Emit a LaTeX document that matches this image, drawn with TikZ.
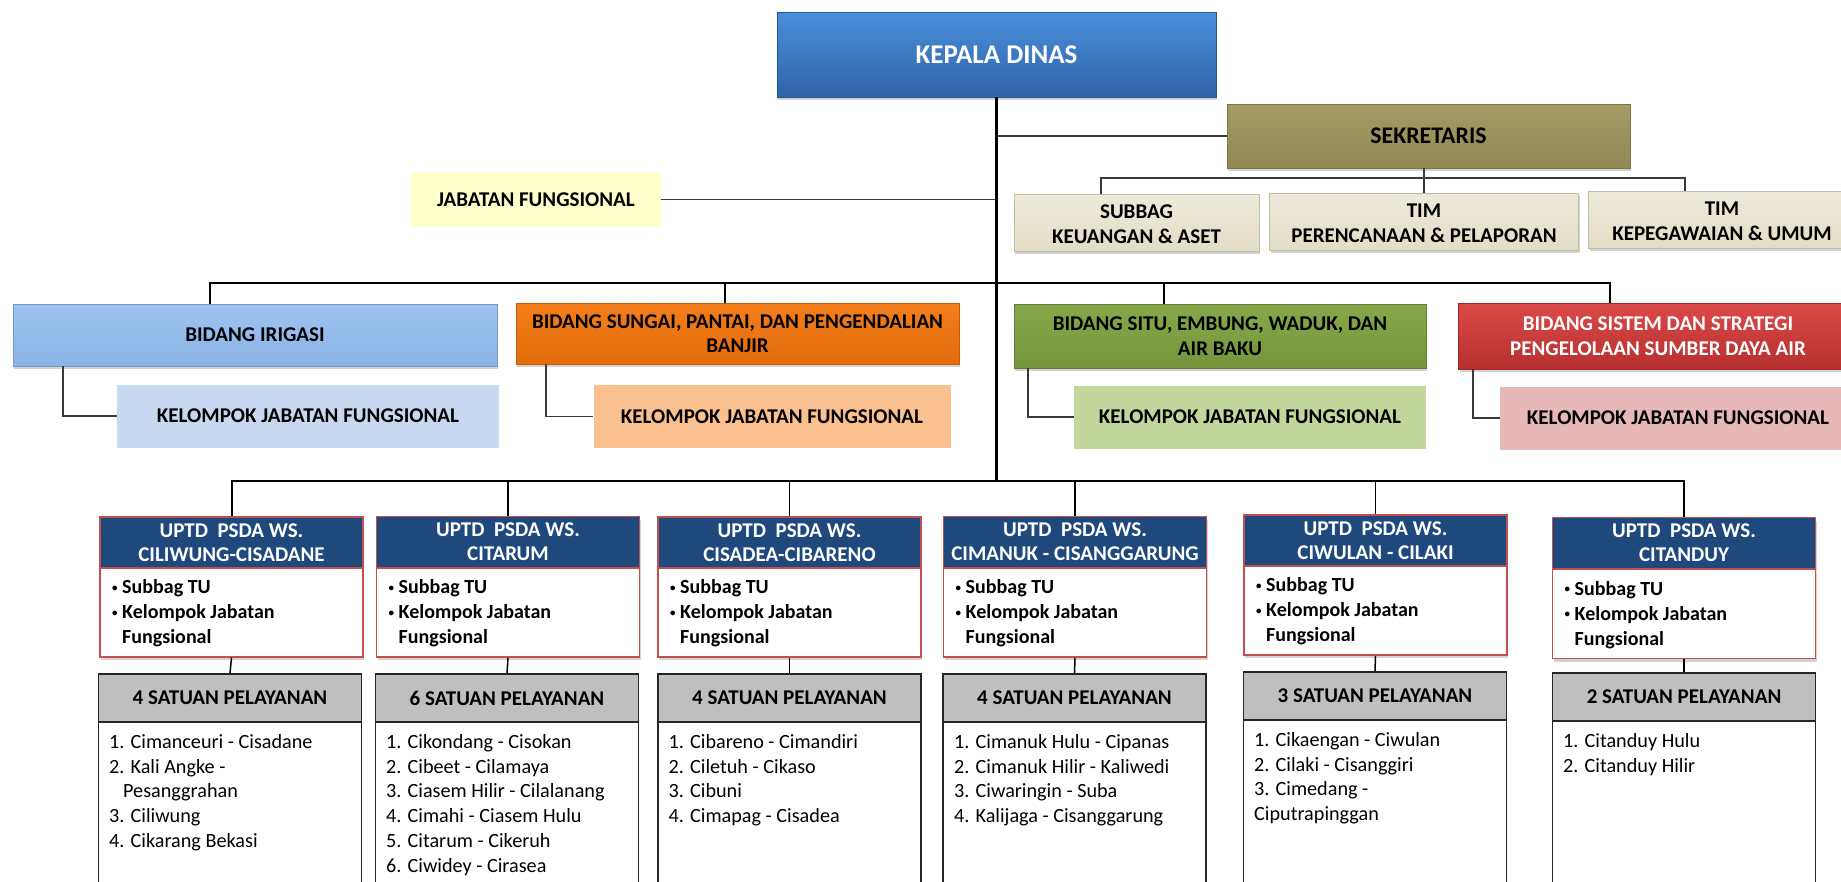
\documentclass[tikz,border=0pt]{standalone}
\usepackage{fontspec}
\setmainfont{Carlito}
\usetikzlibrary{shadows}
\definecolor{kepT}{HTML}{4A8EDB}
\definecolor{kepB}{HTML}{3064AA}
\definecolor{sekT}{HTML}{A39C64}
\definecolor{sekB}{HTML}{8F8853}
\definecolor{begT}{HTML}{EEEADA}
\definecolor{begB}{HTML}{E2DDC5}
\definecolor{jabF}{HTML}{FFFFCC}
\definecolor{irgT}{HTML}{9DC3F2}
\definecolor{irgB}{HTML}{8CB3E5}
\definecolor{sunT}{HTML}{F47E1B}
\definecolor{sunB}{HTML}{E36C0A}
\definecolor{sitT}{HTML}{86A84A}
\definecolor{sitB}{HTML}{76953B}
\definecolor{sisT}{HTML}{DC4A48}
\definecolor{sisB}{HTML}{B5302F}
\definecolor{kIrg}{HTML}{C6D9F1}
\definecolor{kSun}{HTML}{FAC090}
\definecolor{kSit}{HTML}{C3D69B}
\definecolor{kSis}{HTML}{E6B9B8}
\definecolor{uptd}{HTML}{1F497D}
\definecolor{redb}{HTML}{C0504D}
\definecolor{satg}{HTML}{BFBFBF}
\definecolor{lineg}{HTML}{3A3A3A}
\begin{document}
\begin{tikzpicture}[x=1pt,y=-1pt,
  box/.style={inner sep=0pt, align=center, font=\bfseries\fontsize{21}{24.5}\selectfont},
  shad/.style={drop shadow={shadow xshift=1pt, shadow yshift=-3pt, opacity=0.35}},
  bid/.style={box, shad, draw=#1!85!black, line width=0.5pt},
  kel/.style={box, minimum height=63pt},
  uhead/.style={box, shad, minimum width=263pt, minimum height=51pt, fill=uptd, draw=redb, line width=1.5pt, text=white, font=\bfseries\fontsize{21}{24}\selectfont},
  ubody/.style={shad, minimum width=263pt, minimum height=89pt, fill=white, draw=redb, line width=1.5pt, inner sep=0pt},
  utext/.style={anchor=north west, inner sep=0pt, align=left, font=\bfseries\fontsize{20}{25}\selectfont},
  shead/.style={box, minimum width=263pt, minimum height=48pt, fill=satg, draw=black!85, line width=1.8pt, font=\bfseries\fontsize{21}{24}\selectfont},
  sbody/.style={minimum width=263pt, minimum height=178pt, fill=white, draw=black!85, line width=1.5pt, inner sep=0pt},
  stext/.style={anchor=north west, inner sep=0pt, align=left, font=\fontsize{20.2}{24.9}\selectfont},
  thickline/.style={line width=2.8pt, black},
  midline/.style={line width=2pt, black},
  thinline/.style={line width=1.5pt, black},
  grayline/.style={line width=1.3pt, lineg}
]
\useasboundingbox (0,0) rectangle (1841,881);
\clip (0,0) rectangle (1841,881);

% ---------- top ----------
\node[bid=kepB, minimum width=439pt, minimum height=85pt, top color=kepT, bottom color=kepB, text=white, font=\bfseries\fontsize{27}{32}\selectfont] (kepala) at (996.5,54.5) {KEPALA DINAS};
\node[bid=sekB, minimum width=403pt, minimum height=64pt, top color=sekT, bottom color=sekB, font=\bfseries\fontsize{23.8}{26}\selectfont] (sek) at (1428.5,136) {SEKRETARIS};
\node[bid=begB, minimum width=245pt, minimum height=57pt, top color=begT, bottom color=begB] (subbag) at (1136.5,222.5) {\strut SUBBAG\\KEUANGAN \& ASET};
\node[bid=begB, minimum width=309pt, minimum height=57pt, top color=begT, bottom color=begB] (timper) at (1424,221.5) {\strut TIM\\PERENCANAAN \& PELAPORAN};
\node[bid=begB, minimum width=267pt, minimum height=57pt, top color=begT, bottom color=begB] (timkep) at (1722,219.5) {\strut TIM\\KEPEGAWAIAN \& UMUM};
\node[box, minimum width=250pt, minimum height=55pt, fill=jabF] (jab) at (536,199.5) {JABATAN FUNGSIONAL};

% ---------- bidang ----------
\node[bid=irgB, minimum width=484pt, minimum height=62pt, top color=irgT, bottom color=irgB] (birig) at (255,335) {BIDANG IRIGASI};
\node[bid=sunB, minimum width=443pt, minimum height=61pt, top color=sunT, bottom color=sunB] (bsung) at (737.5,333.5) {BIDANG SUNGAI, PANTAI, DAN PENGENDALIAN\\BANJIR};
\node[bid=sitB, minimum width=412pt, minimum height=64pt, top color=sitT, bottom color=sitB] (bsitu) at (1220,336) {BIDANG SITU, EMBUNG, WADUK, DAN\\AIR BAKU};
\node[bid=sisB, minimum width=399pt, minimum height=66pt, top color=sisT, bottom color=sisB, text=white] (bsis) at (1658,336) {BIDANG SISTEM DAN STRATEGI\\PENGELOLAAN SUMBER DAYA AIR};

\node[kel, minimum width=382pt, fill=kIrg] (kirig) at (308,416) {KELOMPOK JABATAN FUNGSIONAL};
\node[kel, minimum width=357pt, fill=kSun] (ksung) at (772,416.5) {KELOMPOK JABATAN FUNGSIONAL};
\node[kel, minimum width=352pt, fill=kSit] (ksitu) at (1250,417) {KELOMPOK JABATAN FUNGSIONAL};
\node[kel, minimum width=356pt, fill=kSis] (ksis) at (1678,418) {KELOMPOK JABATAN FUNGSIONAL};

% ---------- UPTD ----------
\node[uhead] (u1h) at (231.5,542.5) {UPTD\ \ PSDA WS.\\CILIWUNG-CISADANE};
\node[uhead] (u2h) at (508,542) {UPTD\ \ PSDA WS.\\CITARUM};
\node[uhead] (u3h) at (789.5,542.5) {UPTD\ \ PSDA WS.\\CISADEA-CIBARENO};
\node[uhead] (u4h) at (1075,542) {UPTD\ \ PSDA WS.\\CIMANUK - CISANGGARUNG};
\node[uhead] (u5h) at (1375.5,540.5) {UPTD\ \ PSDA WS.\\CIWULAN - CILAKI};
\node[uhead] (u6h) at (1684,543) {UPTD\ \ PSDA WS.\\CITANDUY};

\node[ubody] (u1b) at (231.5,612.5) {};
\node[ubody] (u2b) at (508,612.5) {};
\node[ubody] (u3b) at (789.5,612.5) {};
\node[ubody] (u4b) at (1075,612.5) {};
\node[ubody] (u5b) at (1375.5,610.5) {};
\node[ubody] (u6b) at (1684,614) {};

\newcommand{\ubul}{\makebox[10pt][l]{\raisebox{2.5pt}{\fontsize{11}{11}\selectfont\textbullet}}}
\newcommand{\utxt}{\strut\ubul Subbag TU\\\strut\ubul Kelompok Jabatan\\\strut\hspace*{10pt}Fungsional}
\node[utext] (u1t) at (112,576) {\utxt};
\node[utext] (u2t) at (388.5,576) {\utxt};
\node[utext] (u3t) at (670,576) {\utxt};
\node[utext] (u4t) at (955.5,576) {\utxt};
\node[utext] (u5t) at (1256,574) {\utxt};
\node[utext] (u6t) at (1564.5,577.5) {\utxt};

% ---------- Satuan ----------
\node[shead] (s1h) at (230,698) {4 SATUAN PELAYANAN};
\node[shead] (s2h) at (507,698) {6 SATUAN PELAYANAN};
\node[shead] (s3h) at (789.5,698) {4 SATUAN PELAYANAN};
\node[shead] (s4h) at (1074.5,698) {4 SATUAN PELAYANAN};
\node[shead] (s5h) at (1375,696) {3 SATUAN PELAYANAN};
\node[shead] (s6h) at (1684,697) {2 SATUAN PELAYANAN};

\node[sbody] (s1b) at (230,811) {};
\node[sbody] (s2b) at (507,811) {};
\node[sbody] (s3b) at (789.5,811) {};
\node[sbody] (s4b) at (1074.5,811) {};
\node[sbody] (s5b) at (1375,809) {};
\node[sbody] (s6b) at (1684,810) {};

\node[stext] (s1t) at (109,730.5) {\strut 1. Cimanceuri - Cisadane\\\strut 2. Kali Angke -\\\strut\hspace*{14pt}Pesanggrahan\\\strut 3. Ciliwung\\\strut 4. Cikarang Bekasi};
\node[stext] (s2t) at (386,730.5) {\strut 1. Cikondang - Cisokan\\\strut 2. Cibeet - Cilamaya\\\strut 3. Ciasem Hilir - Cilalanang\\\strut 4. Cimahi - Ciasem Hulu\\\strut 5. Citarum - Cikeruh\\\strut 6. Ciwidey - Cirasea};
\node[stext] (s3t) at (668.5,730.5) {\strut 1. Cibareno - Cimandiri\\\strut 2. Ciletuh - Cikaso\\\strut 3. Cibuni\\\strut 4. Cimapag - Cisadea};
\node[stext] (s4t) at (954,730.5) {\strut 1. Cimanuk Hulu - Cipanas\\\strut 2. Cimanuk Hilir - Kaliwedi\\\strut 3. Ciwaringin - Suba\\\strut 4. Kalijaga - Cisanggarung};
\node[stext] (s5t) at (1254,728.5) {\strut 1. Cikaengan - Ciwulan\\\strut 2. Cilaki - Cisanggiri\\\strut 3. Cimedang -\\\strut Ciputrapinggan};
\node[stext] (s6t) at (1563,729.5) {\strut 1. Citanduy Hulu\\\strut 2. Citanduy Hilir};

% ---------- connectors ----------
\coordinate (bbL) at (210,283);
\coordinate (bbR) at (1610,283);
\coordinate (bb2) at (725,283);
\coordinate (bb3) at (1164,283);
\coordinate (lb) at (0,481);
\coordinate (sbL) at (1101,178);
\coordinate (sbR) at (1685,178);
\coordinate (el1) at (63,0);
\coordinate (el2) at (546,0);
\coordinate (el3) at (1028,0);
\coordinate (el4) at (1473,0);

\draw[grayline] (sek.west) -- (sek.west -| kepala.south);
\draw[grayline] (jab.east) -- (jab.east -| kepala.south);
\draw[grayline] (timper.north) -- (timper.north |- sek.south);
\draw[grayline] (sbL |- subbag.north) -- (sbL) -- (sbR) -- (sbR |- timkep.north);

\draw[grayline] (el1 |- birig.south) |- (kirig.west);
\draw[grayline] (el2 |- bsung.south) |- (ksung.west);
\draw[grayline] (el3 |- bsitu.south) |- (ksitu.west);
\draw[grayline] (el4 |- bsis.south) |- (ksis.west);

\draw[thickline] (kepala.south) -- (kepala.south |- lb);
\draw[thickline] (bbL |- birig.north) -- (bbL) -- (bbR) -- (bbR |- bsis.north);
\draw[thickline] (bb2) -- (bb2 |- bsung.north);
\draw[thickline] (bb3) -- (bb3 |- bsitu.north);

\draw[midline] (u1h.north) -- (u1h.north |- lb) -- (u6h.north |- lb) -- (u6h.north);
\foreach \u in {u2h,u3h,u4h,u5h}{
  \draw[thinline] (\u.north) -- (\u.north |- lb);
}
\draw[thinline] (u1b.south) -- (s1h.north);
\draw[thinline] (u2b.south) -- (s2h.north);
\draw[thinline] (u3b.south) -- (s3h.north);
\draw[thinline] (u4b.south) -- (s4h.north);
\draw[thinline] (u5b.south) -- (s5h.north);
\draw[thinline] (u6b.south) -- (s6h.north);
\end{tikzpicture}
\end{document}
